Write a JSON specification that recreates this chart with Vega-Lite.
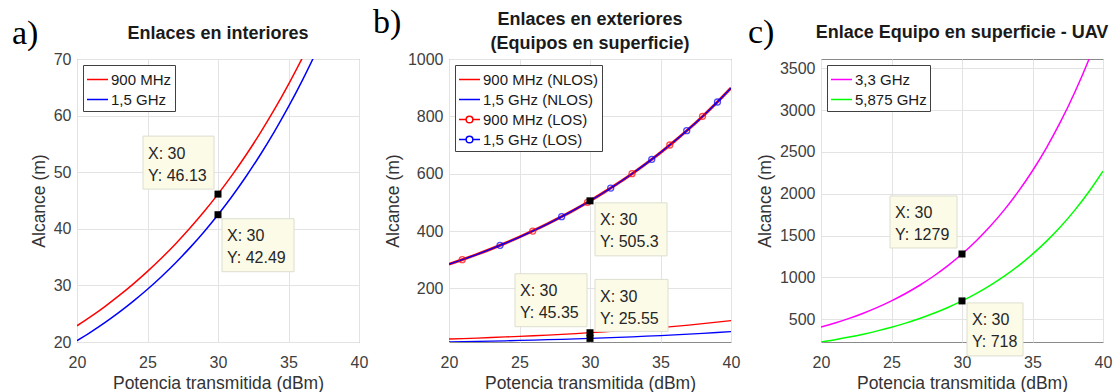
{
  "$schema": "https://vega.github.io/schema/vega-lite/v6.json",
  "background": "white",
  "padding": {"left": 11, "top": 5, "right": 5, "bottom": 0},
  "autosize": {"type": "pad"},
  "config": {
    "numberFormat": "d",
    "view": {"stroke": "#8a8a8a", "strokeWidth": 1},
    "axis": {"grid": true, "gridColor": "#e3e3e3", "gridWidth": 1, "domain": false, "ticks": false, "tickSize": 0,
      "labelFont": "Liberation Sans", "labelFontSize": 16, "labelColor": "#404040", "labelFlush": false, "labelOverlap": false,
      "titleFont": "Liberation Sans", "titleFontSize": 17.5, "titleFontWeight": "normal", "titleColor": "#333333"},
    "axisX": {"labelPadding": 12, "titlePadding": 4},
    "axisY": {"labelPadding": 6, "titlePadding": 5},
    "legend": {"orient": "top-left", "offset": 6, "padding": 3, "fillColor": "#ffffff", "strokeColor": "#404040",
      "labelFont": "Liberation Sans", "labelFontSize": 15, "labelColor": "#1a1a1a", "symbolType": "stroke",
      "symbolSize": 441, "symbolStrokeWidth": 1.5, "rowPadding": -3.5, "labelOffset": 2, "labelLimit": 300},
    "title": {"font": "Liberation Sans", "fontSize": 18, "fontWeight": "bold", "color": "#1a1a1a", "anchor": "middle", "frame": "group", "baseline": "alphabetic"}
  },
  "datasets": {
    "a": [
      {"serie": "900 MHz", "x": 20, "y": 22.87}, {"serie": "900 MHz", "x": 21, "y": 24.53}, {"serie": "900 MHz", "x": 22, "y": 26.31},
      {"serie": "900 MHz", "x": 23, "y": 28.23}, {"serie": "900 MHz", "x": 24, "y": 30.28}, {"serie": "900 MHz", "x": 25, "y": 32.48},
      {"serie": "900 MHz", "x": 26, "y": 34.84}, {"serie": "900 MHz", "x": 27, "y": 37.37}, {"serie": "900 MHz", "x": 28, "y": 40.09},
      {"serie": "900 MHz", "x": 29, "y": 43.00}, {"serie": "900 MHz", "x": 30, "y": 46.13}, {"serie": "900 MHz", "x": 31, "y": 49.48},
      {"serie": "900 MHz", "x": 32, "y": 53.08}, {"serie": "900 MHz", "x": 33, "y": 56.94}, {"serie": "900 MHz", "x": 34, "y": 61.08},
      {"serie": "900 MHz", "x": 35, "y": 65.52}, {"serie": "900 MHz", "x": 36, "y": 70.28}, {"serie": "900 MHz", "x": 37, "y": 75.39},
      {"serie": "1,5 GHz", "x": 20, "y": 20.24}, {"serie": "1,5 GHz", "x": 21, "y": 21.80}, {"serie": "1,5 GHz", "x": 22, "y": 23.47},
      {"serie": "1,5 GHz", "x": 23, "y": 25.28}, {"serie": "1,5 GHz", "x": 24, "y": 27.23}, {"serie": "1,5 GHz", "x": 25, "y": 29.32},
      {"serie": "1,5 GHz", "x": 26, "y": 31.58}, {"serie": "1,5 GHz", "x": 27, "y": 34.01}, {"serie": "1,5 GHz", "x": 28, "y": 36.63},
      {"serie": "1,5 GHz", "x": 29, "y": 39.45}, {"serie": "1,5 GHz", "x": 30, "y": 42.49}, {"serie": "1,5 GHz", "x": 31, "y": 45.76},
      {"serie": "1,5 GHz", "x": 32, "y": 49.29}, {"serie": "1,5 GHz", "x": 33, "y": 53.08}, {"serie": "1,5 GHz", "x": 34, "y": 57.17},
      {"serie": "1,5 GHz", "x": 35, "y": 61.57}, {"serie": "1,5 GHz", "x": 36, "y": 66.31}, {"serie": "1,5 GHz", "x": 37, "y": 71.42}
    ],
    "b": [
      {"serie": "900 MHz (NLOS)", "x": 20, "y": 23.49}, {"serie": "900 MHz (NLOS)", "x": 21, "y": 25.09}, {"serie": "900 MHz (NLOS)", "x": 22, "y": 26.79},
      {"serie": "900 MHz (NLOS)", "x": 23, "y": 28.62}, {"serie": "900 MHz (NLOS)", "x": 24, "y": 30.56}, {"serie": "900 MHz (NLOS)", "x": 25, "y": 32.64},
      {"serie": "900 MHz (NLOS)", "x": 26, "y": 34.86}, {"serie": "900 MHz (NLOS)", "x": 27, "y": 37.23}, {"serie": "900 MHz (NLOS)", "x": 28, "y": 39.76},
      {"serie": "900 MHz (NLOS)", "x": 29, "y": 42.46}, {"serie": "900 MHz (NLOS)", "x": 30, "y": 45.35}, {"serie": "900 MHz (NLOS)", "x": 31, "y": 48.43},
      {"serie": "900 MHz (NLOS)", "x": 32, "y": 51.73}, {"serie": "900 MHz (NLOS)", "x": 33, "y": 55.25}, {"serie": "900 MHz (NLOS)", "x": 34, "y": 59.00},
      {"serie": "900 MHz (NLOS)", "x": 35, "y": 63.01}, {"serie": "900 MHz (NLOS)", "x": 36, "y": 67.30}, {"serie": "900 MHz (NLOS)", "x": 37, "y": 71.87},
      {"serie": "900 MHz (NLOS)", "x": 38, "y": 76.76}, {"serie": "900 MHz (NLOS)", "x": 39, "y": 81.98}, {"serie": "900 MHz (NLOS)", "x": 40, "y": 87.55},
      {"serie": "1,5 GHz (NLOS)", "x": 20, "y": 13.23}, {"serie": "1,5 GHz (NLOS)", "x": 21, "y": 14.13}, {"serie": "1,5 GHz (NLOS)", "x": 22, "y": 15.09},
      {"serie": "1,5 GHz (NLOS)", "x": 23, "y": 16.12}, {"serie": "1,5 GHz (NLOS)", "x": 24, "y": 17.22}, {"serie": "1,5 GHz (NLOS)", "x": 25, "y": 18.39},
      {"serie": "1,5 GHz (NLOS)", "x": 26, "y": 19.64}, {"serie": "1,5 GHz (NLOS)", "x": 27, "y": 20.97}, {"serie": "1,5 GHz (NLOS)", "x": 28, "y": 22.40},
      {"serie": "1,5 GHz (NLOS)", "x": 29, "y": 23.92}, {"serie": "1,5 GHz (NLOS)", "x": 30, "y": 25.55}, {"serie": "1,5 GHz (NLOS)", "x": 31, "y": 27.29},
      {"serie": "1,5 GHz (NLOS)", "x": 32, "y": 29.14}, {"serie": "1,5 GHz (NLOS)", "x": 33, "y": 31.12}, {"serie": "1,5 GHz (NLOS)", "x": 34, "y": 33.24},
      {"serie": "1,5 GHz (NLOS)", "x": 35, "y": 35.50}, {"serie": "1,5 GHz (NLOS)", "x": 36, "y": 37.91}, {"serie": "1,5 GHz (NLOS)", "x": 37, "y": 40.49},
      {"serie": "1,5 GHz (NLOS)", "x": 38, "y": 43.24}, {"serie": "1,5 GHz (NLOS)", "x": 39, "y": 46.18}, {"serie": "1,5 GHz (NLOS)", "x": 40, "y": 49.32},
      {"serie": "900 MHz (LOS)", "x": 20, "y": 284.2}, {"serie": "900 MHz (LOS)", "x": 21, "y": 301.1}, {"serie": "900 MHz (LOS)", "x": 22, "y": 318.9},
      {"serie": "900 MHz (LOS)", "x": 23, "y": 337.8}, {"serie": "900 MHz (LOS)", "x": 24, "y": 357.8}, {"serie": "900 MHz (LOS)", "x": 25, "y": 379.0},
      {"serie": "900 MHz (LOS)", "x": 26, "y": 401.5}, {"serie": "900 MHz (LOS)", "x": 27, "y": 425.2}, {"serie": "900 MHz (LOS)", "x": 28, "y": 450.4},
      {"serie": "900 MHz (LOS)", "x": 29, "y": 477.1}, {"serie": "900 MHz (LOS)", "x": 30, "y": 505.3}, {"serie": "900 MHz (LOS)", "x": 31, "y": 535.2},
      {"serie": "900 MHz (LOS)", "x": 32, "y": 566.9}, {"serie": "900 MHz (LOS)", "x": 33, "y": 600.5}, {"serie": "900 MHz (LOS)", "x": 34, "y": 636.0},
      {"serie": "900 MHz (LOS)", "x": 35, "y": 673.7}, {"serie": "900 MHz (LOS)", "x": 36, "y": 713.6}, {"serie": "900 MHz (LOS)", "x": 37, "y": 755.8},
      {"serie": "900 MHz (LOS)", "x": 38, "y": 800.6}, {"serie": "900 MHz (LOS)", "x": 39, "y": 848.0}, {"serie": "900 MHz (LOS)", "x": 40, "y": 898.6},
      {"serie": "1,5 GHz (LOS)", "x": 20, "y": 284.2}, {"serie": "1,5 GHz (LOS)", "x": 21, "y": 301.1}, {"serie": "1,5 GHz (LOS)", "x": 22, "y": 318.9},
      {"serie": "1,5 GHz (LOS)", "x": 23, "y": 337.8}, {"serie": "1,5 GHz (LOS)", "x": 24, "y": 357.8}, {"serie": "1,5 GHz (LOS)", "x": 25, "y": 379.0},
      {"serie": "1,5 GHz (LOS)", "x": 26, "y": 401.5}, {"serie": "1,5 GHz (LOS)", "x": 27, "y": 425.2}, {"serie": "1,5 GHz (LOS)", "x": 28, "y": 450.4},
      {"serie": "1,5 GHz (LOS)", "x": 29, "y": 477.1}, {"serie": "1,5 GHz (LOS)", "x": 30, "y": 505.3}, {"serie": "1,5 GHz (LOS)", "x": 31, "y": 535.2},
      {"serie": "1,5 GHz (LOS)", "x": 32, "y": 566.9}, {"serie": "1,5 GHz (LOS)", "x": 33, "y": 600.5}, {"serie": "1,5 GHz (LOS)", "x": 34, "y": 636.0},
      {"serie": "1,5 GHz (LOS)", "x": 35, "y": 673.7}, {"serie": "1,5 GHz (LOS)", "x": 36, "y": 713.6}, {"serie": "1,5 GHz (LOS)", "x": 37, "y": 755.8},
      {"serie": "1,5 GHz (LOS)", "x": 38, "y": 800.6}, {"serie": "1,5 GHz (LOS)", "x": 39, "y": 848.0}, {"serie": "1,5 GHz (LOS)", "x": 40, "y": 898.6}
    ],
    "bm": [
      {"serie": "900 MHz (LOS)", "x": 20.94, "y": 300}, {"serie": "900 MHz (LOS)", "x": 25.94, "y": 400}, {"serie": "900 MHz (LOS)", "x": 29.82, "y": 500},
      {"serie": "900 MHz (LOS)", "x": 32.98, "y": 600}, {"serie": "900 MHz (LOS)", "x": 35.66, "y": 700}, {"serie": "900 MHz (LOS)", "x": 37.98, "y": 800},
      {"serie": "1,5 GHz (LOS)", "x": 23.62, "y": 350}, {"serie": "1,5 GHz (LOS)", "x": 27.99, "y": 450}, {"serie": "1,5 GHz (LOS)", "x": 31.47, "y": 550},
      {"serie": "1,5 GHz (LOS)", "x": 34.38, "y": 650}, {"serie": "1,5 GHz (LOS)", "x": 36.86, "y": 750}, {"serie": "1,5 GHz (LOS)", "x": 39.04, "y": 850}
    ],
    "c": [
      {"serie": "3,3 GHz", "x": 20, "y": 404.5}, {"serie": "3,3 GHz", "x": 21, "y": 453.8}, {"serie": "3,3 GHz", "x": 22, "y": 509.2},
      {"serie": "3,3 GHz", "x": 23, "y": 571.3}, {"serie": "3,3 GHz", "x": 24, "y": 641.0}, {"serie": "3,3 GHz", "x": 25, "y": 719.2},
      {"serie": "3,3 GHz", "x": 26, "y": 806.9}, {"serie": "3,3 GHz", "x": 27, "y": 905.4}, {"serie": "3,3 GHz", "x": 28, "y": 1015.9},
      {"serie": "3,3 GHz", "x": 29, "y": 1139.9}, {"serie": "3,3 GHz", "x": 30, "y": 1279.0}, {"serie": "3,3 GHz", "x": 31, "y": 1435.1},
      {"serie": "3,3 GHz", "x": 32, "y": 1610.2}, {"serie": "3,3 GHz", "x": 33, "y": 1806.7}, {"serie": "3,3 GHz", "x": 34, "y": 2027.1},
      {"serie": "3,3 GHz", "x": 35, "y": 2274.4}, {"serie": "3,3 GHz", "x": 36, "y": 2551.9}, {"serie": "3,3 GHz", "x": 37, "y": 2863.3},
      {"serie": "3,3 GHz", "x": 38, "y": 3212.7}, {"serie": "3,3 GHz", "x": 39, "y": 3604.7}, {"serie": "3,3 GHz", "x": 40, "y": 4044.6},
      {"serie": "5,875 GHz", "x": 20, "y": 227.0}, {"serie": "5,875 GHz", "x": 21, "y": 254.7}, {"serie": "5,875 GHz", "x": 22, "y": 285.8},
      {"serie": "5,875 GHz", "x": 23, "y": 320.7}, {"serie": "5,875 GHz", "x": 24, "y": 359.8}, {"serie": "5,875 GHz", "x": 25, "y": 403.7},
      {"serie": "5,875 GHz", "x": 26, "y": 453.0}, {"serie": "5,875 GHz", "x": 27, "y": 508.3}, {"serie": "5,875 GHz", "x": 28, "y": 570.3},
      {"serie": "5,875 GHz", "x": 29, "y": 639.9}, {"serie": "5,875 GHz", "x": 30, "y": 718.0}, {"serie": "5,875 GHz", "x": 31, "y": 805.6},
      {"serie": "5,875 GHz", "x": 32, "y": 903.9}, {"serie": "5,875 GHz", "x": 33, "y": 1014.2}, {"serie": "5,875 GHz", "x": 34, "y": 1138.0},
      {"serie": "5,875 GHz", "x": 35, "y": 1276.8}, {"serie": "5,875 GHz", "x": 36, "y": 1432.6}, {"serie": "5,875 GHz", "x": 37, "y": 1607.4},
      {"serie": "5,875 GHz", "x": 38, "y": 1803.5}, {"serie": "5,875 GHz", "x": 39, "y": 2023.6}, {"serie": "5,875 GHz", "x": 40, "y": 2270.5}
    ],
    "tips": [
      {"panel": "a", "id": "a1", "x": 30, "y": 46.13, "label": "X: 30\nY: 46.13"},
      {"panel": "a", "id": "a2", "x": 30, "y": 42.49, "label": "X: 30\nY: 42.49"},
      {"panel": "b", "id": "b1", "x": 30, "y": 505.3, "label": "X: 30\nY: 505.3"},
      {"panel": "b", "id": "b2", "x": 30, "y": 45.35, "label": "X: 30\nY: 45.35"},
      {"panel": "b", "id": "b3", "x": 30, "y": 25.55, "label": "X: 30\nY: 25.55"},
      {"panel": "c", "id": "c1", "x": 30, "y": 1279, "label": "X: 30\nY: 1279"},
      {"panel": "c", "id": "c2", "x": 30, "y": 718, "label": "X: 30\nY: 718"}
    ]
  },
  "hconcat": [
    {
      "width": 282, "height": 283,
      "title": {"text": "Enlaces en interiores", "offset": -26},
      "encoding": {
        "x": {"field": "x", "type": "quantitative", "scale": {"domain": [20, 40], "nice": false, "zero": false}, "axis": {"values": [20, 25, 30, 35, 40]}, "title": "Potencia transmitida (dBm)"},
        "y": {"field": "y", "type": "quantitative", "scale": {"domain": [20, 70], "nice": false, "zero": false}, "axis": {"values": [20, 30, 40, 50, 60, 70]}, "title": "Alcance (m)"}
      },
      "layer": [
        {"data": {"name": "a"}, "mark": {"type": "line", "clip": true, "strokeWidth": 1.5, "interpolate": "monotone"},
          "encoding": {"color": {"field": "serie", "type": "nominal", "scale": {"domain": ["900 MHz", "1,5 GHz"], "range": ["#ff0000", "#0000ff"]}, "legend": {"title": null}}}},
        {"data": {"name": "tips"}, "transform": [{"filter": "datum.id == 'a1'"}],
          "mark": {"type": "rect", "fill": "#fbfbe7", "stroke": "#deded0", "strokeWidth": 1, "xOffset": -75, "x2Offset": -4, "yOffset": -58, "y2Offset": -5},
          "encoding": {"x2": {"field": "x"}, "y2": {"field": "y"}}},
        {"data": {"name": "tips"}, "transform": [{"filter": "datum.id == 'a1'"}],
          "mark": {"type": "text", "align": "left", "baseline": "middle", "dx": -70, "dy": -40.5, "lineHeight": 22, "lineBreak": "\n", "fontSize": 16, "font": "Liberation Sans", "color": "#262626"},
          "encoding": {"text": {"field": "label"}}},
        {"data": {"name": "tips"}, "transform": [{"filter": "datum.id == 'a2'"}],
          "mark": {"type": "rect", "fill": "#fbfbe7", "stroke": "#deded0", "strokeWidth": 1, "xOffset": 4, "x2Offset": 76, "yOffset": 4, "y2Offset": 57},
          "encoding": {"x2": {"field": "x"}, "y2": {"field": "y"}}},
        {"data": {"name": "tips"}, "transform": [{"filter": "datum.id == 'a2'"}],
          "mark": {"type": "text", "align": "left", "baseline": "middle", "dx": 9, "dy": 21.5, "lineHeight": 22, "lineBreak": "\n", "fontSize": 16, "font": "Liberation Sans", "color": "#262626"},
          "encoding": {"text": {"field": "label"}}},
        {"data": {"name": "tips"}, "transform": [{"filter": "datum.panel == 'a'"}],
          "mark": {"type": "point", "shape": "square", "filled": true, "size": 49, "color": "#000000", "opacity": 1}},
        {"data": {"name": "tips"}, "transform": [{"filter": "datum.id == 'a1'"}],
          "mark": {"type": "text", "align": "left", "baseline": "alphabetic", "font": "Liberation Serif", "fontSize": 34, "color": "#000000"},
          "encoding": {
            "x": {"datum": 15.39, "type": "quantitative", "scale": {"domain": [20, 40], "nice": false, "zero": false}, "title": "Potencia transmitida (dBm)"},
            "y": {"datum": 72.65, "type": "quantitative", "scale": {"domain": [20, 70], "nice": false, "zero": false}, "title": "Alcance (m)"},
            "text": {"value": "a)"}}}
      ]
    },
    {
      "width": 282, "height": 283,
      "title": {"text": ["Enlaces en exteriores", "(Equipos en superficie)"], "offset": -47, "lineHeight": 24},
      "encoding": {
        "x": {"field": "x", "type": "quantitative", "scale": {"domain": [20, 40], "nice": false, "zero": false}, "axis": {"values": [20, 25, 30, 35, 40]}, "title": "Potencia transmitida (dBm)"},
        "y": {"field": "y", "type": "quantitative", "scale": {"domain": [13, 1000], "nice": false, "zero": false}, "axis": {"values": [200, 400, 600, 800, 1000]}, "title": "Alcance (m)"}
      },
      "layer": [
        {"data": {"name": "b"}, "transform": [{"filter": "datum.serie == '900 MHz (LOS)'"}],
          "mark": {"type": "line", "clip": true, "strokeWidth": 2.8, "interpolate": "monotone"},
          "encoding": {"color": {"field": "serie", "type": "nominal", "scale": {"domain": ["900 MHz (NLOS)", "1,5 GHz (NLOS)", "900 MHz (LOS)", "1,5 GHz (LOS)"], "range": ["#ff0000", "#0000ff", "#ff0000", "#0000ff"]},
            "legend": {"title": null, "encode": {"symbols": {"update": {"shape": {"signal": "indexof(datum.value, 'NLOS') < 0 ? 'M-1,0H-0.32M0.32,0H1M0.32,0A0.32,0.32 0 1 1 -0.32,0A0.32,0.32 0 1 1 0.32,0' : 'stroke'"}, "fill": {"value": "transparent"}}}}}}}},
        {"data": {"name": "b"}, "transform": [{"filter": "datum.serie != '900 MHz (LOS)'"}],
          "mark": {"type": "line", "clip": true, "strokeWidth": 1.3, "interpolate": "monotone"},
          "encoding": {"color": {"field": "serie", "type": "nominal", "scale": {"domain": ["900 MHz (NLOS)", "1,5 GHz (NLOS)", "900 MHz (LOS)", "1,5 GHz (LOS)"], "range": ["#ff0000", "#0000ff", "#ff0000", "#0000ff"]}}}},
        {"data": {"name": "bm"},
          "mark": {"type": "point", "shape": "circle", "filled": false, "size": 36, "strokeWidth": 1.3, "clip": true},
          "encoding": {"color": {"field": "serie", "type": "nominal", "scale": {"domain": ["900 MHz (NLOS)", "1,5 GHz (NLOS)", "900 MHz (LOS)", "1,5 GHz (LOS)"], "range": ["#ff0000", "#0000ff", "#ff0000", "#0000ff"]}}}},
        {"data": {"name": "tips"}, "transform": [{"filter": "datum.id == 'b1'"}],
          "mark": {"type": "rect", "fill": "#fbfbe7", "stroke": "#deded0", "strokeWidth": 1, "xOffset": 5, "x2Offset": 77, "yOffset": 2, "y2Offset": 55},
          "encoding": {"x2": {"field": "x"}, "y2": {"field": "y"}}},
        {"data": {"name": "tips"}, "transform": [{"filter": "datum.id == 'b1'"}],
          "mark": {"type": "text", "align": "left", "baseline": "middle", "dx": 10, "dy": 19.5, "lineHeight": 22, "lineBreak": "\n", "fontSize": 16, "font": "Liberation Sans", "color": "#262626"},
          "encoding": {"text": {"field": "label"}}},
        {"data": {"name": "tips"}, "transform": [{"filter": "datum.id == 'b2'"}],
          "mark": {"type": "rect", "fill": "#fbfbe7", "stroke": "#deded0", "strokeWidth": 1, "xOffset": -75, "x2Offset": -3, "yOffset": -59, "y2Offset": -6},
          "encoding": {"x2": {"field": "x"}, "y2": {"field": "y"}}},
        {"data": {"name": "tips"}, "transform": [{"filter": "datum.id == 'b2'"}],
          "mark": {"type": "text", "align": "left", "baseline": "middle", "dx": -70, "dy": -41.5, "lineHeight": 22, "lineBreak": "\n", "fontSize": 16, "font": "Liberation Sans", "color": "#262626"},
          "encoding": {"text": {"field": "label"}}},
        {"data": {"name": "tips"}, "transform": [{"filter": "datum.id == 'b3'"}],
          "mark": {"type": "rect", "fill": "#fbfbe7", "stroke": "#deded0", "strokeWidth": 1, "xOffset": 5, "x2Offset": 78, "yOffset": -59, "y2Offset": -7},
          "encoding": {"x2": {"field": "x"}, "y2": {"field": "y"}}},
        {"data": {"name": "tips"}, "transform": [{"filter": "datum.id == 'b3'"}],
          "mark": {"type": "text", "align": "left", "baseline": "middle", "dx": 10, "dy": -41.5, "lineHeight": 22, "lineBreak": "\n", "fontSize": 16, "font": "Liberation Sans", "color": "#262626"},
          "encoding": {"text": {"field": "label"}}},
        {"data": {"name": "tips"}, "transform": [{"filter": "datum.panel == 'b'"}],
          "mark": {"type": "point", "shape": "square", "filled": true, "size": 49, "color": "#000000", "opacity": 1}},
        {"data": {"name": "tips"}, "transform": [{"filter": "datum.id == 'b1'"}],
          "mark": {"type": "text", "align": "left", "baseline": "alphabetic", "font": "Liberation Serif", "fontSize": 34, "color": "#000000"},
          "encoding": {
            "x": {"datum": 14.61, "type": "quantitative", "scale": {"domain": [20, 40], "nice": false, "zero": false}, "title": "Potencia transmitida (dBm)"},
            "y": {"datum": 1090.7, "type": "quantitative", "scale": {"domain": [13, 1000], "nice": false, "zero": false}, "title": "Alcance (m)"},
            "text": {"value": "b)"}}}
      ]
    },
    {
      "width": 282, "height": 283,
      "title": {"text": "Enlace Equipo en superficie - UAV", "offset": -26},
      "encoding": {
        "x": {"field": "x", "type": "quantitative", "scale": {"domain": [20, 40], "nice": false, "zero": false}, "axis": {"values": [20, 25, 30, 35, 40]}, "title": "Potencia transmitida (dBm)"},
        "y": {"field": "y", "type": "quantitative", "scale": {"domain": [227, 3610], "nice": false, "zero": false}, "axis": {"values": [500, 1000, 1500, 2000, 2500, 3000, 3500]}, "title": "Alcance (m)"}
      },
      "layer": [
        {"data": {"name": "c"}, "mark": {"type": "line", "clip": true, "strokeWidth": 1.5, "interpolate": "monotone"},
          "encoding": {"color": {"field": "serie", "type": "nominal", "scale": {"domain": ["3,3 GHz", "5,875 GHz"], "range": ["#ff00ff", "#00ff00"]}, "legend": {"title": null}}}},
        {"data": {"name": "tips"}, "transform": [{"filter": "datum.id == 'c1'"}],
          "mark": {"type": "rect", "fill": "#fbfbe7", "stroke": "#deded0", "strokeWidth": 1, "xOffset": -72, "x2Offset": -5, "yOffset": -58, "y2Offset": -6},
          "encoding": {"x2": {"field": "x"}, "y2": {"field": "y"}}},
        {"data": {"name": "tips"}, "transform": [{"filter": "datum.id == 'c1'"}],
          "mark": {"type": "text", "align": "left", "baseline": "middle", "dx": -67, "dy": -40.5, "lineHeight": 22, "lineBreak": "\n", "fontSize": 16, "font": "Liberation Sans", "color": "#262626"},
          "encoding": {"text": {"field": "label"}}},
        {"data": {"name": "tips"}, "transform": [{"filter": "datum.id == 'c2'"}],
          "mark": {"type": "rect", "fill": "#fbfbe7", "stroke": "#deded0", "strokeWidth": 1, "xOffset": 5, "x2Offset": 61, "yOffset": 2, "y2Offset": 55},
          "encoding": {"x2": {"field": "x"}, "y2": {"field": "y"}}},
        {"data": {"name": "tips"}, "transform": [{"filter": "datum.id == 'c2'"}],
          "mark": {"type": "text", "align": "left", "baseline": "middle", "dx": 10, "dy": 19.5, "lineHeight": 22, "lineBreak": "\n", "fontSize": 16, "font": "Liberation Sans", "color": "#262626"},
          "encoding": {"text": {"field": "label"}}},
        {"data": {"name": "tips"}, "transform": [{"filter": "datum.panel == 'c'"}],
          "mark": {"type": "point", "shape": "square", "filled": true, "size": 49, "color": "#000000", "opacity": 1}},
        {"data": {"name": "tips"}, "transform": [{"filter": "datum.id == 'c1'"}],
          "mark": {"type": "text", "align": "left", "baseline": "alphabetic", "font": "Liberation Serif", "fontSize": 34, "color": "#000000"},
          "encoding": {
            "x": {"datum": 14.82, "type": "quantitative", "scale": {"domain": [20, 40], "nice": false, "zero": false}, "title": "Potencia transmitida (dBm)"},
            "y": {"datum": 3801, "type": "quantitative", "scale": {"domain": [227, 3610], "nice": false, "zero": false}, "title": "Alcance (m)"},
            "text": {"value": "c)"}}}
      ]
    }
  ],
  "spacing": 90,
  "bounds": "flush",
  "resolve": {"scale": {"x": "independent", "y": "independent", "color": "independent"}, "axis": {"x": "independent", "y": "independent"}, "legend": {"color": "independent"}}
}
